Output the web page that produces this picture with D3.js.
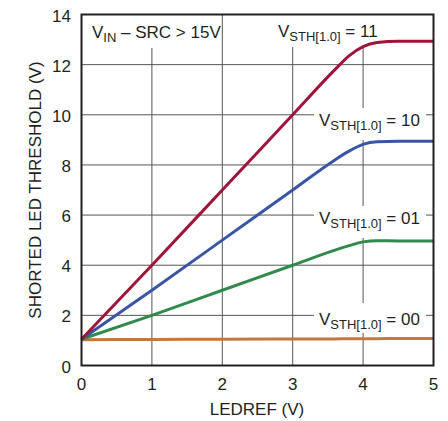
<!DOCTYPE html>
<html>
<head>
<meta charset="utf-8">
<script src="https://cdn.jsdelivr.net/npm/d3@7.9.0/dist/d3.min.js"></script>
<style>
  body { margin: 0; background: #fff; }
  text { font-family: "Liberation Sans Narrow", "Liberation Sans", Arial, sans-serif; fill: #231f20; }
</style>
</head>
<body>
<svg id="chart" width="448" height="421"></svg>
<script>
// LEDREF (V) sample points
const xVals = [0, 1, 2, 3, 3.6, 3.8, 4.0, 4.2, 4.5, 5];
const s11 = [1.05, 4, 7, 10, 11.8, 12.35, 12.72, 12.88, 12.93, 12.93];
const s10 = [1.05, 3, 5, 7, 8.2, 8.55, 8.82, 8.92, 8.94, 8.94];
const s01 = [1.05, 2, 3, 4, 4.6, 4.78, 4.93, 4.98, 4.97, 4.97];
const s00 = [1.03, 1.04, 1.05, 1.06, 1.06, 1.07, 1.07, 1.07, 1.08, 1.08];
const xTicks = [0, 1, 2, 3, 4, 5];
const yTicks = [0, 2, 4, 6, 8, 10, 12, 14];

const series = [
  { vals: s11, color: '#9e1538', code: '11', lx: 278, ly: 37 },
  { vals: s10, color: '#3a55a6', code: '10', lx: 319, ly: 126 },
  { vals: s01, color: '#2f8a4c', code: '01', lx: 319, ly: 224 },
  { vals: s00, color: '#c4783c', code: '00', lx: 319, ly: 325 }
];

const svg = d3.select('#chart');
const x = d3.scaleLinear().domain([0, 5]).range([81.5, 433.5]);
const y = d3.scaleLinear().domain([0, 14]).range([365.5, 14.5]);

// grid
svg.append('g')
  .selectAll('line.v')
  .data(xTicks.slice(1, -1))
  .join('line')
  .attr('x1', d => x(d)).attr('x2', d => x(d))
  .attr('y1', y(0)).attr('y2', y(14))
  .attr('stroke', '#555').attr('stroke-width', 1);
svg.append('g')
  .selectAll('line.h')
  .data(yTicks.slice(1, -1))
  .join('line')
  .attr('x1', x(0)).attr('x2', x(5))
  .attr('y1', d => y(d)).attr('y2', d => y(d))
  .attr('stroke', '#555').attr('stroke-width', 1);

// white boxes behind labels (break the grid)
const boxes = [
  [82, 15, 136, 33],
  [272, 15, 116, 32],
  [314, 108, 112, 32],
  [314, 206, 112, 32],
  [314, 303, 112, 30]
];
svg.append('g')
  .selectAll('rect')
  .data(boxes)
  .join('rect')
  .attr('x', d => d[0]).attr('y', d => d[1])
  .attr('width', d => d[2]).attr('height', d => d[3])
  .attr('fill', '#fff');

// curves
const line = d3.line()
  .x((d, i) => x(xVals[i]))
  .y(d => y(d))
  .curve(d3.curveMonotoneX);

svg.append('g')
  .selectAll('path')
  .data(series.slice().reverse())
  .join('path')
  .attr('d', d => line(d.vals))
  .attr('fill', 'none')
  .attr('stroke', d => d.color)
  .attr('stroke-width', 3);

// frame
svg.append('rect')
  .attr('x', x(0)).attr('y', y(14))
  .attr('width', x(5) - x(0)).attr('height', y(0) - y(14))
  .attr('fill', 'none').attr('stroke', '#231f20').attr('stroke-width', 2);

// tick labels
svg.append('g')
  .selectAll('text')
  .data(xTicks)
  .join('text')
  .attr('x', d => x(d)).attr('y', 390)
  .attr('text-anchor', 'middle')
  .attr('font-size', 17)
  .text(d => d);
svg.append('g')
  .selectAll('text')
  .data(yTicks)
  .join('text')
  .attr('x', 71).attr('y', d => y(d) + 7)
  .attr('text-anchor', 'end')
  .attr('font-size', 17)
  .text(d => d);

// axis titles
svg.append('text')
  .attr('x', 257).attr('y', 415)
  .attr('text-anchor', 'middle')
  .attr('font-size', 17)
  .text('LEDREF (V)');
svg.append('text')
  .attr('transform', `translate(41, ${y(7)}) rotate(-90)`)
  .attr('text-anchor', 'middle')
  .attr('font-size', 17)
  .text('SHORTED LED THRESHOLD (V)');

// condition label
const cond = svg.append('text').attr('x', 92).attr('y', 38).attr('font-size', 17);
cond.append('tspan').text('V');
cond.append('tspan').attr('font-size', 13).attr('dy', 4).text('IN');
cond.append('tspan').attr('dy', -4).text(' – SRC > 15V');

// series labels
series.forEach(s => {
  const t = svg.append('text').attr('x', s.lx).attr('y', s.ly).attr('font-size', 17);
  t.append('tspan').text('V');
  t.append('tspan').attr('font-size', 13).attr('dy', 4).text('STH[1.0]');
  t.append('tspan').attr('dy', -4).text(' = ' + s.code);
});
</script>
</body>
</html>
